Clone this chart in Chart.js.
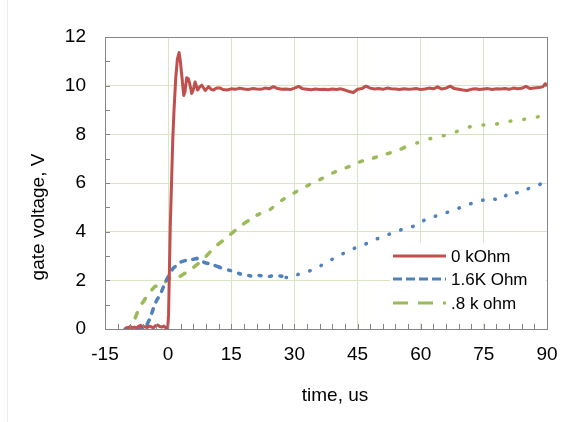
<!DOCTYPE html>
<html>
<head>
<meta charset="utf-8">
<script src="https://cdn.jsdelivr.net/npm/chart.js@4.4.1/dist/chart.umd.min.js"></script>
<style>
  body { margin: 0; background: #fff; }
  canvas { display: block; }
</style>
</head>
<body>
<canvas id="chart" width="574" height="422"></canvas>
<script>
// series labels
const seriesNames = ['0 kOhm', '1.6K Ohm', '.8 k ohm'];

// tick labels
const xTicks = [-15, 0, 15, 30, 45, 60, 75, 90];
const yTicks = [0, 2, 4, 6, 8, 10, 12];

// 0 kOhm
const redTime = [-10.2, -9.5, -9, -8.5, -8, -7.5, -7, -6.5, -6, -5.5, -5, -4.5, -4, -3.5, -3, -2.5, -2, -1.5, -1, -0.5, -0.1,
  0.1, 0.3, 0.5, 0.8, 1.1, 1.4, 1.8, 2.2, 2.6, 2.9, 3.25, 3.7, 4.0, 4.4, 4.8, 5.1, 5.6, 6.0, 6.4, 7.0, 7.5, 8.0, 8.8, 9.6,
  10.2, 10.8, 11.5, 12.4, 13, 14,
  15, 16, 17, 18, 19, 20, 21, 22, 23, 24, 25, 26, 27, 28, 29, 30, 31, 32, 33, 34, 35, 36, 37, 38, 39, 40,
  41, 42, 43, 44, 45, 46, 47, 48, 49, 50, 51, 52, 53, 54, 55, 56, 57, 58, 59, 60, 61, 62, 63, 64, 65,
  66, 67, 68, 69, 70, 71, 72, 73, 74, 75, 76, 77, 78, 79, 80, 81, 82, 83, 84, 85, 86, 87, 88, 89, 89.6, 90];
const redVolt = [0.03, 0.06, 0.1, 0.05, 0.08, 0.04, 0.12, 0.15, 0.07, 0.1, 0.06, 0.12, 0.09, 0.05, 0.14, 0.16, 0.1, 0.08, 0.12, 0.04, 0.05,
  0.6, 2.4, 4.2, 6.0, 7.8, 9.0, 10.3, 11.1, 11.36, 11.0, 10.4, 9.6, 9.75, 10.32, 10.28, 10.1, 9.68, 9.85, 10.15, 9.82, 9.95, 10.02, 9.8, 9.96,
  9.85, 9.82, 9.9, 9.9, 9.84, 9.82,
  9.87, 9.85, 9.9, 9.86, 9.84, 9.88, 9.86, 9.85, 9.9, 9.87, 9.96, 9.88, 9.85, 9.86, 9.84, 9.9, 9.97, 9.87, 9.85, 9.83, 9.86, 9.84, 9.85, 9.83, 9.86, 9.84,
  9.87, 9.82, 9.76, 9.72, 9.85, 9.88, 9.98, 9.9, 9.86, 9.88, 9.85, 9.9, 9.87, 9.86, 9.84, 9.87, 9.85, 9.86, 9.88, 9.84, 9.86, 9.9, 9.87, 9.95, 9.86,
  9.9, 9.98, 9.88, 9.85, 9.82, 9.8, 9.85, 9.87, 9.84, 9.86, 9.88, 9.84, 9.87, 9.86, 9.88, 9.85, 9.9, 9.87, 9.89, 9.97, 9.88, 9.9, 9.92, 9.95, 10.08, 9.98];

// 1.6K Ohm
const blueTime = [-10.2, -9, -8, -7, -6, -5.5, -5.1, -4.3, -3.5, -2.7, -1.9, -1.1, -0.3, 0.5, 1.2, 2.1, 3, 3.8, 4.8, 5.8, 6.8, 7.8, 8.8, 9.8,
  10.8, 12, 13.2, 14.4, 15.6, 16.8, 17.9, 19, 20.3, 21.5, 22.7, 24, 25.3, 26.7, 28, 29, 30.2, 31.4, 33, 34.6, 35.8, 37, 38.2, 39.4,
  41, 42.5, 44, 45.7, 47.3, 48.9, 50.5, 52, 53.6, 55.2, 56.8, 58.4, 60, 61.6, 63.2, 64.8, 66.4, 68, 69.5, 71.1, 72.7, 74.3, 75.5,
  76.7, 78, 79, 80.2, 81.4, 82.6, 83.8, 85, 86.2, 87.6, 89, 90];
const blueVolt = [0.0, 0.02, 0.0, 0.03, 0.02, 0.08, 0.16, 0.44, 0.85, 1.19, 1.4, 1.74, 2.05, 2.3, 2.5, 2.63, 2.75, 2.8, 2.84, 2.86, 2.9, 2.8, 2.72, 2.68,
  2.63, 2.55, 2.47, 2.42, 2.36, 2.28, 2.22, 2.2, 2.15, 2.2, 2.18, 2.16, 2.2, 2.18, 2.12, 2.1, 2.2, 2.28, 2.35, 2.45, 2.55, 2.68, 2.8, 2.9,
  3.05, 3.18, 3.3, 3.42, 3.52, 3.66, 3.76, 3.86, 3.97, 4.07, 4.15, 4.23, 4.38, 4.55, 4.62, 4.71, 4.8, 4.89, 5.0, 5.1, 5.2, 5.27, 5.33,
  5.37, 5.32, 5.3, 5.48, 5.64, 5.6, 5.6, 5.72, 5.82, 5.9, 5.99, 6.05];

// .8 k ohm
const greenTime = [-10.2, -9.2, -8.6, -7.4, -6.7, -5.9, -4.7, -3.1, -2, -1.1, 0.1, 1, 2.1, 3, 4, 5, 6, 7.2, 8.4, 9.6, 10.8, 12, 13.2, 14.4,
  15.6, 17, 18.3, 19.7, 21.1, 22.7, 24.3, 25.7, 27.1, 29, 31.2, 33.4, 35, 36.6, 38.2, 39.8, 41.2, 42.5, 44.1, 45.7, 47.1, 48.5,
  50.1, 51.7, 53.1, 54.5, 56, 57.6, 59.2, 60.8, 62.2, 63.6, 65.2, 66.7, 68.1, 69.5, 70.7, 71.9, 73.3, 74.7, 75.9, 77.1, 78.5,
  79.8, 81.8, 83.8, 85.2, 86.6, 88, 89.4, 90];
const greenVolt = [0.0, 0.05, 0.1, 0.64, 0.95, 1.12, 1.45, 1.75, 1.8, 1.85, 2.08, 2.1, 2.1, 2.18, 2.29, 2.4, 2.53, 2.7, 2.86, 3.1, 3.32, 3.5, 3.66, 3.83,
  4.0, 4.2, 4.37, 4.52, 4.68, 4.8, 4.92, 5.12, 5.3, 5.5, 5.72, 5.92, 6.05, 6.19, 6.33, 6.47, 6.56, 6.64, 6.76, 6.88, 6.95, 7.01,
  7.1, 7.18, 7.26, 7.33, 7.45, 7.56, 7.65, 7.73, 7.82, 7.9, 7.94, 7.97, 8.08, 8.18, 8.25, 8.32, 8.35, 8.38, 8.38, 8.38, 8.45,
  8.52, 8.55, 8.59, 8.64, 8.68, 8.72, 8.75, 8.77];

const RED = '#c0504d', BLUE = '#4f81bd', GREEN = '#9bbb59';
const GRID = '#d8e4c2', AXIS = '#868686';
const FONT = '"Liberation Sans", Arial, sans-serif';

const pts = (xs, ys) => xs.map((x, i) => ({ x: x, y: ys[i] }));

// dash gets finer further along the trace, like the excel export
// (round caps add the line width to every dash)
const blueDash = ctx => {
  const x = ctx.p0.parsed.x;
  if (x < 12) return [4.5, 7.5];
  if (x < 28) return [2, 8.5];
  return [0.5, 12];
};
const greenDash = ctx => {
  const x = ctx.p0.parsed.x;
  if (x < 20) return [5.5, 11];
  if (x < 55) return [3, 11.5];
  return [0.8, 13];
};

const frame = {
  id: 'frame',
  beforeDraw(chart) {
    const c = chart.ctx;
    c.save();
    c.strokeStyle = '#ececec';
    c.lineWidth = 1;
    c.beginPath();
    c.moveTo(7.5, 0);
    c.lineTo(7.5, chart.height);
    c.stroke();
    c.restore();
  },
  afterDatasetsDraw(chart) {
    const c = chart.ctx, a = chart.chartArea;
    const xs = chart.scales.x, ys = chart.scales.y;
    c.save();
    c.strokeStyle = AXIS;
    c.lineWidth = 1;
    c.beginPath();
    for (let v = xs.min; v <= xs.max; v += 3) {
      const px = Math.round(xs.getPixelForValue(v)) + 0.5;
      c.moveTo(px, a.bottom);
      c.lineTo(px, a.bottom - 5);
    }
    for (let v = ys.min; v <= ys.max; v += 1) {
      const py = Math.round(ys.getPixelForValue(v)) + 0.5;
      c.moveTo(a.left, py);
      c.lineTo(a.left + 5, py);
    }
    c.stroke();
    c.strokeRect(Math.round(a.left) + 0.5, Math.round(a.top) + 0.5,
      Math.round(a.right - a.left), Math.round(a.bottom - a.top));

    // axis titles
    c.fillStyle = '#000';
    c.font = '19px ' + FONT;
    c.textAlign = 'center';
    c.textBaseline = 'alphabetic';
    c.fillText('time, us', (a.left + a.right) / 2 + 9, a.bottom + 72);
    c.translate(a.left - 61, (a.top + a.bottom) / 2 + 34);
    c.rotate(-Math.PI / 2);
    c.fillText('gate voltage, V', 0, 0);
    c.restore();
  },
  afterDraw(chart) {
    const c = chart.ctx, a = chart.chartArea;
    const ds = chart.data.datasets;
    const lx = a.right - 154;
    const rows = [a.bottom - 73, a.bottom - 50, a.bottom - 26];
    const dashes = [[], [9, 4], [15, 10]];
    c.save();
    c.fillStyle = '#fff';
    c.fillRect(lx - 3, a.bottom - 86, a.right - lx + 2, 80);
    c.font = '17px ' + FONT;
    c.textBaseline = 'middle';
    c.textAlign = 'left';
    ds.forEach((d, i) => {
      c.strokeStyle = d.borderColor;
      c.lineWidth = 3;
      c.setLineDash(dashes[i]);
      c.beginPath();
      c.moveTo(lx, rows[i]);
      c.lineTo(lx + 53, rows[i]);
      c.stroke();
      c.fillStyle = '#000';
      c.fillText(d.label, lx + 58, rows[i] + 1);
    });
    c.restore();
  }
};

new Chart(document.getElementById('chart'), {
  type: 'line',
  data: {
    datasets: [
      {
        label: seriesNames[0],
        data: pts(redTime, redVolt),
        borderColor: RED,
        borderWidth: 3,
        borderJoinStyle: 'round',
        pointRadius: 0,
        tension: 0
      },
      {
        label: seriesNames[1],
        data: pts(blueTime, blueVolt),
        borderColor: BLUE,
        borderWidth: 3.5,
        borderCapStyle: 'round',
        borderDash: [4.5, 7.5],
        pointRadius: 0,
        tension: 0,
        segment: { borderDash: blueDash }
      },
      {
        label: seriesNames[2],
        data: pts(greenTime, greenVolt),
        borderColor: GREEN,
        borderWidth: 3.5,
        borderCapStyle: 'round',
        borderDash: [5.5, 11],
        pointRadius: 0,
        tension: 0,
        segment: { borderDash: greenDash }
      }
    ]
  },
  options: {
    responsive: false,
    animation: false,
    parsing: false,
    layout: { padding: { top: 37, right: 27, left: 0, bottom: 0 } },
    plugins: {
      legend: { display: false },
      tooltip: { enabled: false }
    },
    scales: {
      x: {
        type: 'linear',
        min: xTicks[0],
        max: xTicks[xTicks.length - 1],
        afterFit: s => { s.height = 93; },
        afterBuildTicks: s => { s.ticks = xTicks.map(v => ({ value: v })); },
        ticks: { color: '#000', font: { family: FONT, size: 19 }, padding: 14, maxRotation: 0 },
        grid: { color: GRID, drawTicks: false },
        border: { color: AXIS }
      },
      y: {
        min: yTicks[0],
        max: yTicks[yTicks.length - 1],
        afterFit: s => { s.width = 105; },
        afterBuildTicks: s => { s.ticks = yTicks.map(v => ({ value: v })); },
        ticks: { color: '#000', font: { family: FONT, size: 19 }, padding: 19 },
        grid: { color: GRID, drawTicks: false },
        border: { color: AXIS }
      }
    }
  },
  plugins: [frame]
});
</script>
</body>
</html>
